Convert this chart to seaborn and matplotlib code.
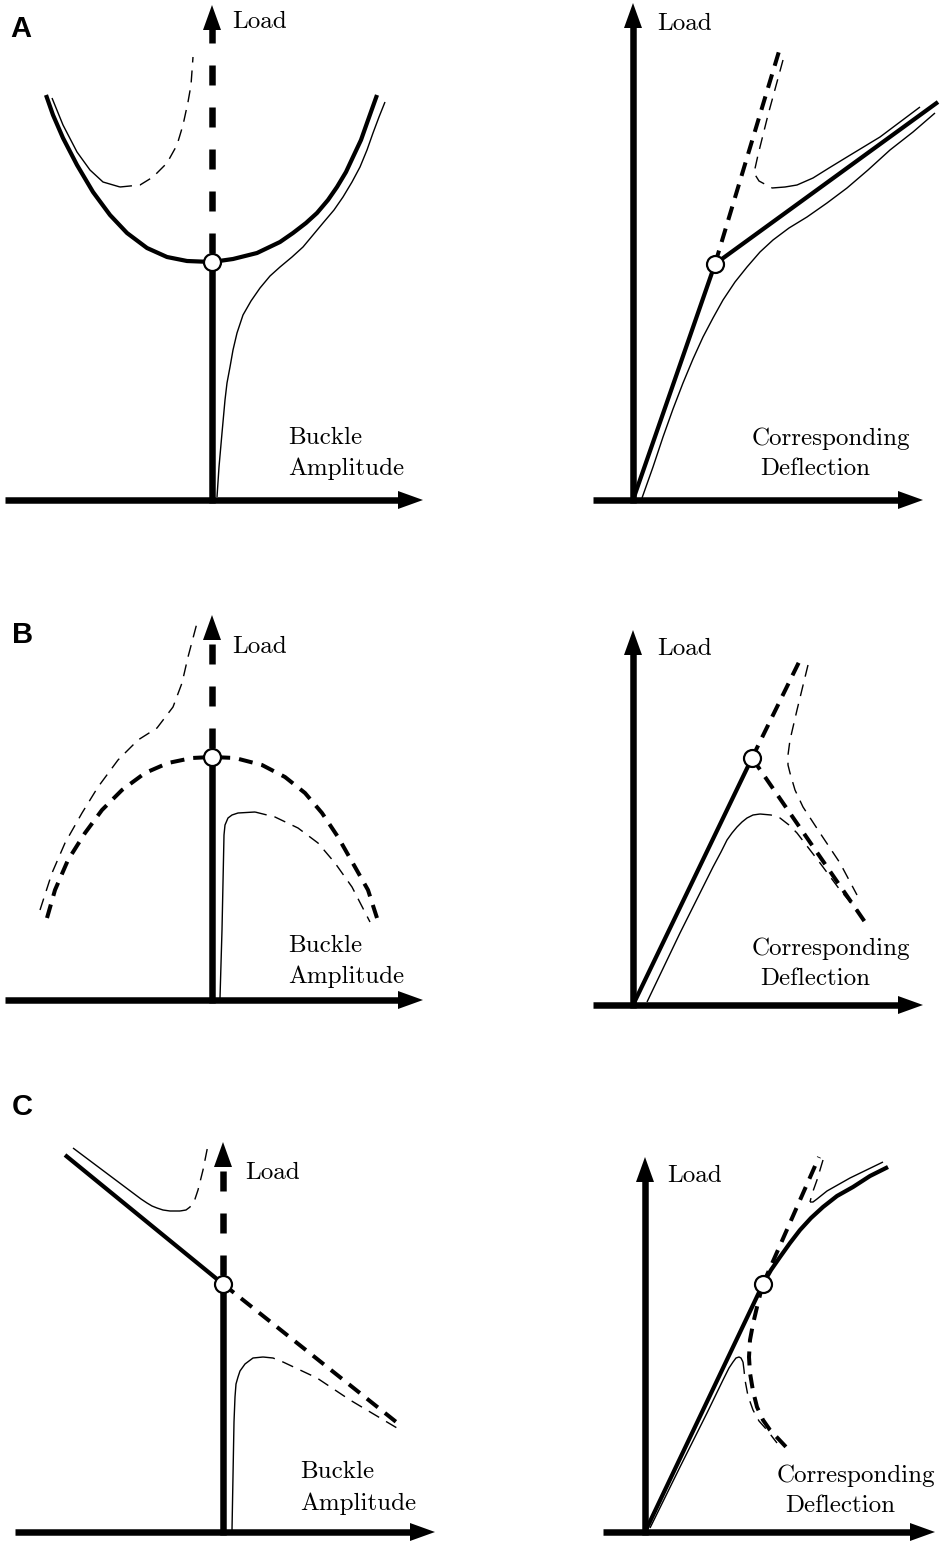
import matplotlib
matplotlib.use("Agg")
import matplotlib.pyplot as plt
import seaborn as sns

# Buckling load-path sketches. Every panel uses local units (1 unit = 1 px),
# origin at the crossing of the two axes, y pointing up.

# ---- panel A, left: stable symmetric bifurcation (buckle amplitude)
a1_primary = [(-166, 405), (-159, 385), (-149, 362), (-135, 335), (-119, 308), (-102, 285), (-85, 267),
              (-65, 252), (-45, 243), (-25, 239), (0, 238), (21, 241), (45, 247), (68, 258), (81, 267),
              (94, 277), (105, 287), (116, 300), (125, 313), (134, 328), (141, 343), (149, 360),
              (155, 377), (160, 391), (165, 405)]
a1_imperf_right = [(5, 3), (7, 33), (10, 67), (13, 100), (15, 117), (18, 133), (21, 150), (25, 167),
                   (31, 185), (39, 199), (48, 212), (58, 224), (68, 233), (80, 243), (91, 253),
                   (111, 277), (122, 290), (131, 303), (140, 318), (148, 333), (155, 350), (161, 367),
                   (167, 383), (173, 398)]
a1_imperf_left = [(-160, 402), (-149, 375), (-135, 348), (-122, 330), (-109, 318), (-92, 313)]
a1_imperf_left_unstable = [(-92, 313), (-72, 315), (-59, 323), (-45, 337), (-35, 355), (-29, 375),
                           (-24, 398), (-21, 415), (-19, 443)]
a1_critical = (0, 238)

# ---- panel A, right: corresponding deflection
a2_prebuckle = [(0, 0), (82, 236)]
a2_postbuckle = [(82, 236), (305, 398)]
a2_unbuckled = [(82, 236), (147, 452)]
a2_imperf_lower = [(9, 2), (20, 33), (30, 63), (40, 91), (50, 117), (60, 141), (70, 163), (80, 182),
                   (90, 200), (102, 218), (114, 233), (127, 248), (140, 260), (156, 272), (174, 283),
                   (194, 297), (214, 312), (235, 330), (257, 350), (280, 368), (302, 387)]
a2_imperf_upper_unstable = [(150, 440), (135, 385), (125, 345), (121, 327), (126, 319), (139, 312)]
a2_imperf_upper = [(139, 312), (152, 313), (164, 315), (180, 322), (196, 332), (214, 343), (247, 363),
                   (287, 393)]
a2_critical = (82, 236)

# ---- panel B, left: unstable symmetric bifurcation
b1_primary = [(-165, 82), (-157, 110), (-144, 140), (-127, 167), (-110, 190), (-90, 210), (-67, 227),
              (-44, 237), (-20, 242), (0, 243), (23, 242), (50, 235), (73, 223), (93, 207), (110, 187),
              (126, 163), (143, 133), (156, 110), (165, 82)]
b1_imperf_left = [(-172, 90), (-160, 127), (-147, 157), (-130, 187), (-114, 213), (-94, 240), (-74, 260),
                  (-55, 272), (-39, 293), (-30, 317), (-24, 343), (-15, 377)]
b1_imperf_right = [(8, 2), (10, 70), (12, 165), (13, 175), (16, 182), (20, 185), (26, 187), (43, 188)]
b1_imperf_right_unstable = [(43, 188), (63, 183), (86, 172), (106, 157), (123, 137), (140, 113), (158, 78)]
b1_critical = (0, 243)

# ---- panel B, right
b2_prebuckle = [(0, 0), (119, 247)]
b2_unbuckled = [(119, 247), (167, 345)]
b2_postbuckle = [(119, 247), (234, 80)]
b2_imperf_lower = [(14, 3), (47, 72), (80, 138), (88, 153), (94, 165), (99, 172), (104, 178), (109, 183),
                   (114, 187), (120, 190), (127, 191)]
b2_imperf_lower_unstable = [(127, 191), (138, 190), (147, 187), (156, 180), (164, 172), (187, 142),
                            (207, 115), (224, 95)]
b2_imperf_upper = [(175, 340), (164, 295), (157, 265), (155, 250), (155, 240), (157, 232), (162, 215),
                   (170, 198), (187, 172), (207, 142), (224, 110)]
b2_critical = (119, 247)

# ---- panel C, left: asymmetric bifurcation
c1_stable = [(-158, 377), (0, 248)]
c1_unstable = [(0, 248), (177, 107)]
c1_imperf_left = [(-150, 384), (-82, 333), (-76, 329), (-71, 326), (-66, 324), (-60, 322), (-53, 321),
                  (-43, 321)]
c1_imperf_left_unstable = [(-43, 321), (-37, 322), (-33, 325), (-28, 333), (-25, 342), (-20, 362),
                           (-15, 387)]
c1_imperf_right = [(9, 2), (11, 110), (12, 135), (13, 148), (15, 155), (17, 161), (22, 168), (30, 174),
                   (40, 175)]
c1_imperf_right_unstable = [(40, 175), (50, 174), (60, 170), (94, 154), (127, 132), (174, 104)]
c1_critical = (0, 248)

# ---- panel C, right
c2_stable = [(0, 0), (118, 248), (126, 262), (135, 275), (145, 289), (155, 302), (166, 314), (178, 325),
             (192, 336), (208, 345), (225, 356), (243, 365)]
c2_unbuckled = [(118, 248), (174, 375)]
c2_unstable = [(118, 248), (115, 237), (112, 225), (108, 208), (105, 192), (104, 175), (105, 159),
               (108, 141), (112, 125), (118, 112), (125, 102), (142, 84)]
c2_imperf_lower = [(5, 4), (35, 65), (62, 119), (78, 152), (84, 164), (88, 170), (91, 174), (94, 175),
                   (96, 174), (98, 170)]
c2_imperf_lower_unstable = [(98, 170), (99, 162), (100, 152), (103, 136), (108, 122), (114, 111),
                            (122, 102), (132, 89)]
c2_imperf_upper_unstable = [(178, 372), (172, 352), (167, 338), (165, 330)]
c2_imperf_upper = [(165, 330), (168, 330), (172, 333), (182, 341), (205, 354), (238, 370)]
c2_critical = (118, 248)

W, H = 945, 1546
PX = 72 / 100  # points per pixel

STYLES = {
    'thick': dict(linewidth=4.2 * PX, linestyle='-'),
    'thickdash': dict(linewidth=4.0 * PX, linestyle=(0, (14 * PX, 9 * PX))),
    'thin': dict(linewidth=1.4 * PX, linestyle='-'),
    'thindash': dict(linewidth=1.4 * PX, linestyle=(0, (12 * PX, 8 * PX))),
}

sns.set_theme(style='white')
plt.rcParams['lines.scale_dashes'] = False
plt.rcParams['axes.formatter.use_mathtext'] = True

fig = plt.figure(figsize=(W / 100, H / 100), dpi=100)


def panel(ox, oy):
    # axes covering the whole figure, shifted so (0,0) sits at the axis crossing
    ax = fig.add_axes([0, 0, 1, 1])
    ax.set_xlim(-ox, W - ox)
    ax.set_ylim(oy - H, oy)
    ax.axis('off')
    ax.patch.set_visible(False)
    return ax


def curve(ax, pts, kind):
    xs = [p[0] for p in pts]
    ys = [p[1] for p in pts]
    sns.lineplot(x=xs, y=ys, sort=False, estimator=None, color='black', ax=ax,
                 solid_capstyle='butt', dash_capstyle='butt', solid_joinstyle='round',
                 zorder=4, **STYLES[kind])


def arrow_head(ax, x, y, direction):
    # filled triangle, 25 px long, 18 px wide
    if direction == 'right':
        ax.fill([x, x - 25, x - 25], [y, y + 9, y - 9], color='black', lw=0, zorder=5)
    else:
        ax.fill([x, x - 9, x + 9], [y, y - 25, y - 25], color='black', lw=0, zorder=5)


def axes_lines(ax, x_start, x_tip, y_tip, y_dash_from=None):
    lw = 6.5 * PX
    ax.plot([x_start, x_tip - 22], [0, 0], color='black', lw=lw, solid_capstyle='butt', zorder=3)
    arrow_head(ax, x_tip, 0, 'right')
    if y_dash_from is None:
        ax.plot([0, 0], [-3, y_tip - 22], color='black', lw=lw, solid_capstyle='butt', zorder=3)
    else:
        ax.plot([0, 0], [-3, y_dash_from], color='black', lw=lw, solid_capstyle='butt', zorder=3)
        ax.plot([0, 0], [y_dash_from + 9, y_tip - 24], color='black', lw=lw,
                linestyle=(0, (20 * PX, 22 * PX)), dash_capstyle='butt', zorder=3)
    arrow_head(ax, 0, y_tip, 'up')


def critical(ax, pt):
    ax.plot([pt[0]], [pt[1]], marker='o', markersize=17 * PX, markerfacecolor='white',
            markeredgecolor='black', markeredgewidth=2.2 * PX, zorder=10)


def label(ax, x, y, s, va='baseline'):
    ax.text(x, y, s, fontsize=18, family='cmr10', ha='left', va=va, color='black')


def letter(ax, x, y, s):
    ax.text(x, y, s, fontsize=21, family='Liberation Sans', fontweight='bold',
            ha='left', va='baseline', color='black')


# ---------------- A
ax = panel(212, 500)
axes_lines(ax, -207, 211, 495, y_dash_from=a1_critical[1])
curve(ax, a1_primary, 'thick')
curve(ax, a1_imperf_right, 'thin')
curve(ax, a1_imperf_left, 'thin')
curve(ax, a1_imperf_left_unstable, 'thindash')
critical(ax, a1_critical)
label(ax, 20, 478, 'Load', va='center')
label(ax, 76, 56, 'Buckle')
label(ax, 76, 25, 'Amplitude')
letter(ax, -202, 463, 'A')

ax = panel(633, 500)
axes_lines(ax, -40, 290, 497)
curve(ax, a2_prebuckle, 'thick')
curve(ax, a2_postbuckle, 'thick')
curve(ax, a2_unbuckled, 'thickdash')
curve(ax, a2_imperf_lower, 'thin')
curve(ax, a2_imperf_upper_unstable, 'thindash')
curve(ax, a2_imperf_upper, 'thin')
critical(ax, a2_critical)
label(ax, 24, 476, 'Load', va='center')
label(ax, 119, 55, 'Corresponding')
label(ax, 127, 25, 'Deflection')

# ---------------- B
ax = panel(212, 1000)
axes_lines(ax, -207, 211, 385, y_dash_from=b1_critical[1])
curve(ax, b1_primary, 'thickdash')
curve(ax, b1_imperf_left, 'thindash')
curve(ax, b1_imperf_right, 'thin')
curve(ax, b1_imperf_right_unstable, 'thindash')
critical(ax, b1_critical)
label(ax, 20, 353, 'Load', va='center')
label(ax, 76, 48, 'Buckle')
label(ax, 76, 17, 'Amplitude')
letter(ax, -200, 357, 'B')

ax = panel(633, 1005)
axes_lines(ax, -40, 290, 375)
curve(ax, b2_prebuckle, 'thick')
curve(ax, b2_unbuckled, 'thickdash')
curve(ax, b2_postbuckle, 'thickdash')
curve(ax, b2_imperf_lower, 'thin')
curve(ax, b2_imperf_lower_unstable, 'thindash')
curve(ax, b2_imperf_upper, 'thindash')
critical(ax, b2_critical)
label(ax, 24, 356, 'Load', va='center')
label(ax, 119, 50, 'Corresponding')
label(ax, 127, 20, 'Deflection')

# ---------------- C
ax = panel(223, 1532)
axes_lines(ax, -208, 212, 390, y_dash_from=c1_critical[1])
curve(ax, c1_stable, 'thick')
curve(ax, c1_unstable, 'thickdash')
curve(ax, c1_imperf_left, 'thin')
curve(ax, c1_imperf_left_unstable, 'thindash')
curve(ax, c1_imperf_right, 'thin')
curve(ax, c1_imperf_right_unstable, 'thindash')
critical(ax, c1_critical)
label(ax, 22, 359, 'Load', va='center')
label(ax, 77, 54, 'Buckle')
label(ax, 77, 22, 'Amplitude')
letter(ax, -211, 417, 'C')

ax = panel(645, 1532)
axes_lines(ax, -42, 290, 375)
curve(ax, c2_stable, 'thick')
curve(ax, c2_unbuckled, 'thickdash')
curve(ax, c2_unstable, 'thickdash')
curve(ax, c2_imperf_lower, 'thin')
curve(ax, c2_imperf_lower_unstable, 'thindash')
curve(ax, c2_imperf_upper_unstable, 'thindash')
curve(ax, c2_imperf_upper, 'thin')
critical(ax, c2_critical)
label(ax, 22, 356, 'Load', va='center')
label(ax, 132, 50, 'Corresponding')
label(ax, 140, 20, 'Deflection')

fig.savefig('out.png', dpi=100, facecolor='white')
